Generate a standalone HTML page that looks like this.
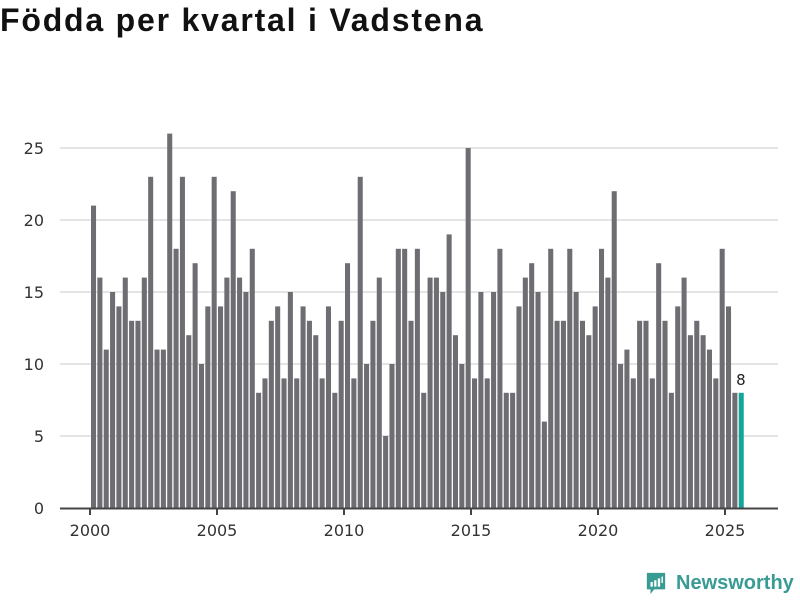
<!DOCTYPE html>
<html><head><meta charset="utf-8"><style>
body{margin:0;background:#fff;width:800px;height:600px;overflow:hidden;font-family:"Liberation Sans",sans-serif;}
h1{position:absolute;left:0;top:2px;margin:0;font-size:32px;font-weight:bold;color:#111;letter-spacing:1.8px}
</style></head><body>
<h1>Födda per kvartal i Vadstena</h1>
<svg id="chart" width="800" height="600" style="position:absolute;left:0;top:0"></svg>
<div style="position:absolute;left:645px;top:570px;display:flex;align-items:center;">
<svg width="22" height="26" viewBox="0 0 24 26"><path d="M2 2h20v18H10l-4 5v-5H2z" fill="#3a9b94"/><rect x="6" y="12" width="2.5" height="5" fill="#fff"/><rect x="10" y="10" width="2.5" height="7" fill="#fff"/><rect x="14" y="8" width="2.5" height="9" fill="#fff"/><rect x="18" y="6" width="1.5" height="7" fill="#fff"/></svg>
<span style="color:#3a9b94;font-size:20px;font-weight:bold;margin-left:9px;font-family:'Liberation Sans',sans-serif;">Newsworthy</span>
</div>
<script>
const startYear = 2000;
const values = [21,16,11,15, 14,16,13,13, 16,23,11,11, 26,18,23,12, 17,10,14,23,
14,16,22,16, 15,18,8,9, 13,14,9,15, 9,14,13,12, 9,14,8,13, 17,9,23,10, 13,16,5,10,
18,18,13,18, 8,16,16,15, 19,12,10,25, 9,15,9,15, 18,8,8,14, 16,17,15,6, 18,13,13,18,
15,13,12,14, 18,16,22,10, 11,9,13,13, 9,17,13,8, 14,16,12,13, 12,11,9,18, 14,8,8];
const yTicks = [0,5,10,15,20,25];
const xTicks = [2000,2005,2010,2015,2020,2025];

const NS="http://www.w3.org/2000/svg";
const svg=document.getElementById('chart');
const x0=90, qw=6.35, y0=508, py=14.4;
const xScale=t=>x0+(t-startYear)*4*qw;
const yScale=v=>y0-v*py;
function mk(tag,attrs){const e=document.createElementNS(NS,tag);for(const k in attrs)e.setAttribute(k,attrs[k]);svg.appendChild(e);return e;}
yTicks.forEach(v=>{
  if(v>0){const g=mk('line',{x1:60,x2:778,y1:yScale(v),y2:yScale(v),stroke:'#dcdcdc','stroke-width':1.5});
  
  }
  const t=mk('text',{x:44,y:yScale(v)+6,'text-anchor':'end','font-size':16,fill:'#333','font-family':'DejaVu Sans, Liberation Sans, sans-serif'});
  t.textContent=v;
  
  
});
values.forEach((v,i)=>{
  const last=i===values.length-1;
  const r=mk('rect',{x:x0+i*qw+1,y:yScale(v),width:qw-1.3,height:v*py,fill:last?'#13a59a':'#6e6d72'});
  
  
  if(last){const t=mk('text',{x:x0+i*qw+qw/2,y:yScale(v)-8,'text-anchor':'middle','font-size':15,fill:'#222','font-family':'DejaVu Sans, Liberation Sans, sans-serif'});
  t.textContent=v;
  
  }
});
const ax=mk('line',{x1:60,x2:778,y1:y0+0.5,y2:y0+0.5,stroke:'#444','stroke-width':2});


xTicks.forEach(yr=>{
  const x=xScale(yr);
  const tk=mk('line',{x1:x,x2:x,y1:y0,y2:y0+7,stroke:'#444','stroke-width':2});
  
  
  const t=mk('text',{x:x,y:y0+28,'text-anchor':'middle','font-size':16,fill:'#333','font-family':'DejaVu Sans, Liberation Sans, sans-serif'});
  t.textContent=yr;
  
  
});
</script>
</body></html>
